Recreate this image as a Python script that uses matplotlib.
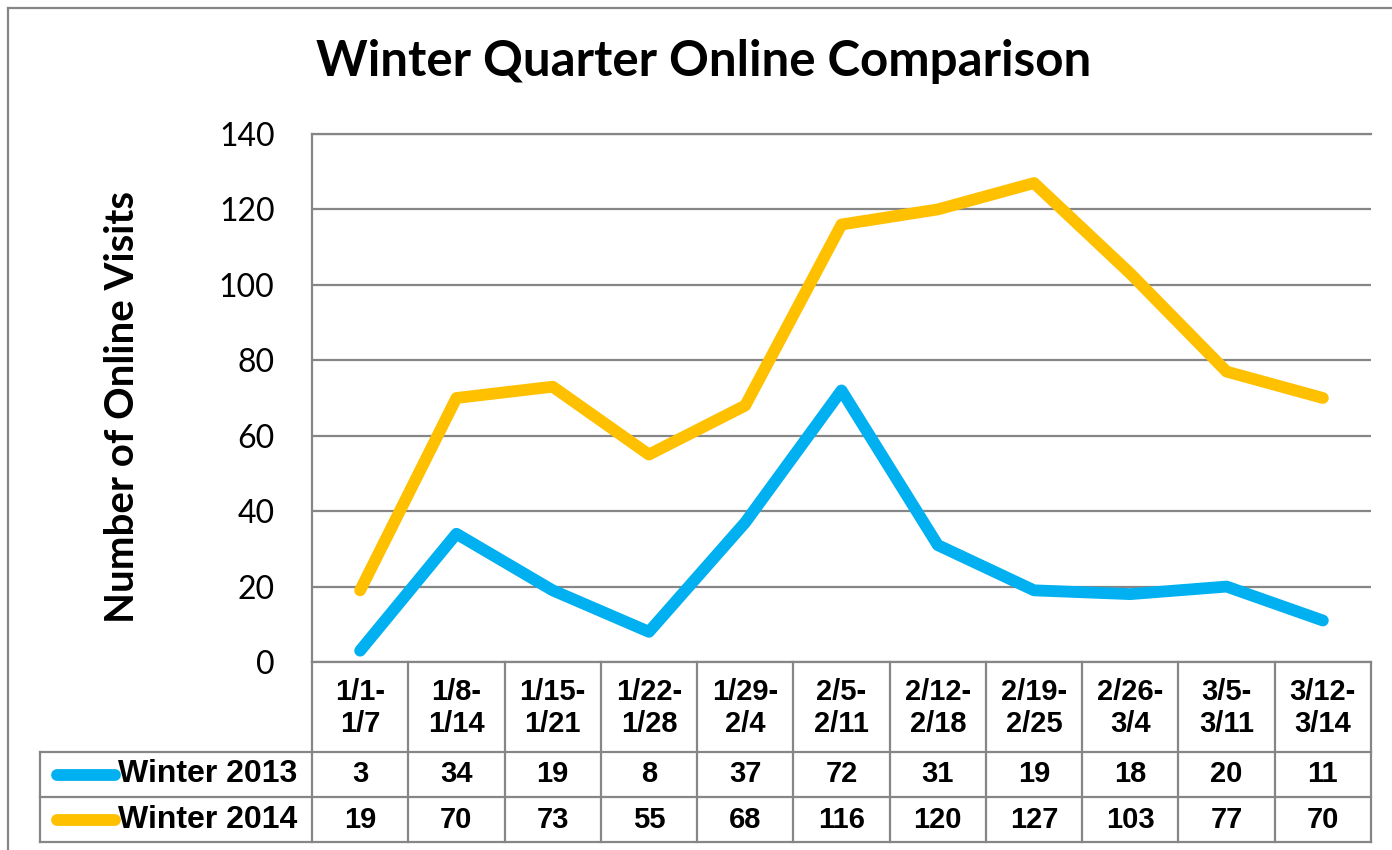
import matplotlib
matplotlib.use("Agg")
import matplotlib.pyplot as plt
from matplotlib import font_manager
from matplotlib.lines import Line2D

# data
weeks = ["1/1-\n1/7", "1/8-\n1/14", "1/15-\n1/21", "1/22-\n1/28", "1/29-\n2/4",
         "2/5-\n2/11", "2/12-\n2/18", "2/19-\n2/25", "2/26-\n3/4", "3/5-\n3/11",
         "3/12-\n3/14"]
series_names = ["Winter 2013", "Winter 2014"]
winter_2013 = [3, 34, 19, 8, 37, 72, 31, 19, 18, 20, 11]
winter_2014 = [19, 70, 73, 55, 68, 116, 120, 127, 103, 77, 70]
colors = ["#00B0F0", "#FFC000"]
yticks = [0, 20, 40, 60, 80, 100, 120, 140]

installed = {f.name for f in font_manager.fontManager.ttflist}
narrow = "Liberation Sans Narrow" if "Liberation Sans Narrow" in installed else "Liberation Sans"
cell_size = 27 if narrow == "Liberation Sans Narrow" else 21

W, H = 1392, 850
grid_c = "#868686"
fig = plt.figure(figsize=(W / 100, H / 100), dpi=100)

# outer chart border (left and top visible)
fig.add_artist(Line2D([8 / W, 8 / W], [0, 1 - 8 / H], color=grid_c, lw=1.6, transform=fig.transFigure))
fig.add_artist(Line2D([8 / W, 1], [1 - 8 / H, 1 - 8 / H], color=grid_c, lw=1.6, transform=fig.transFigure))

# plot area
px_l, px_r, py_t, py_b = 312, 1371, 134, 662
ax = fig.add_axes([px_l / W, 1 - py_b / H, (px_r - px_l) / W, (py_b - py_t) / H])
x = list(range(len(weeks)))
for vals, c in zip([winter_2013, winter_2014], colors):
    ax.plot(x, vals, color=c, lw=8.5, solid_capstyle="round", solid_joinstyle="round", zorder=3)
ax.set_xlim(-0.5, len(weeks) - 0.5)
ax.set_ylim(0, 140)
ax.set_yticks(yticks)
ax.set_xticks([])
ax.yaxis.grid(True, color=grid_c, lw=1.6)
ax.set_axisbelow(True)
ax.spines["right"].set_visible(False)
for s in ["left", "top", "bottom"]:
    ax.spines[s].set_color(grid_c)
    ax.spines[s].set_linewidth(1.6)
ax.tick_params(axis="y", length=0, pad=27, labelsize=23)
for lab in ax.get_yticklabels():
    lab.set_fontfamily("Lato")

fig.text(123 / W, 1 - 407 / H, "Number of Online Visits", rotation=90,
         ha="center", va="center", fontsize=29, fontweight="bold", family="Lato")
fig.text(0.5 * (318 + 1090) / W, 1 - 62 / H, "Winter Quarter Online Comparison",
         ha="center", va="center", fontsize=35.5, fontweight="bold", family="Lato")

# data table below the plot
tl, tb = 40, 842
catw = (px_r - px_l) / len(weeks)
lead = (px_l - tl) / catw
tax = fig.add_axes([tl / W, 1 - tb / H, (px_r - tl) / W, (tb - py_b) / H])
tax.set_xlim(-0.5 - lead, len(weeks) - 0.5)
tax.set_ylim(tb - py_b, 0)
tax.axis("off")
r1, r2, r3 = 90, 135, tb - py_b
for k in range(len(weeks) + 1):
    tax.plot([k - 0.5, k - 0.5], [0, r3], color=grid_c, lw=1.6, clip_on=False)
for yy in [r1, r2, r3]:
    tax.plot([-0.5 - lead, len(weeks) - 0.5], [yy, yy], color=grid_c, lw=1.6, clip_on=False)
tax.plot([-0.5 - lead, -0.5 - lead], [r1, r3], color=grid_c, lw=1.6, clip_on=False)

for i, wk in enumerate(weeks):
    tax.text(i, r1 / 2 + 1, wk, ha="center", va="center", fontsize=cell_size, fontweight="bold",
             family=narrow, linespacing=1.2)
for row, (name, vals, c) in enumerate(zip(series_names, [winter_2013, winter_2014], colors)):
    yc = (r1 + r2) / 2 if row == 0 else (r2 + r3) / 2
    key_x0 = -0.5 - lead + 17 / catw
    key_x1 = -0.5 - lead + 75 / catw
    tax.plot([key_x0, key_x1], [yc, yc], color=c, lw=8.5, solid_capstyle="round", clip_on=False)
    tax.text(-0.5 - lead + 78 / catw, yc, name, ha="left", va="center", fontsize=23,
             fontweight="bold", family="Liberation Sans")
    for i, v in enumerate(vals):
        tax.text(i, yc, str(v), ha="center", va="center", fontsize=cell_size,
                 fontweight="bold", family=narrow)

fig.savefig("out.png", dpi=100)
